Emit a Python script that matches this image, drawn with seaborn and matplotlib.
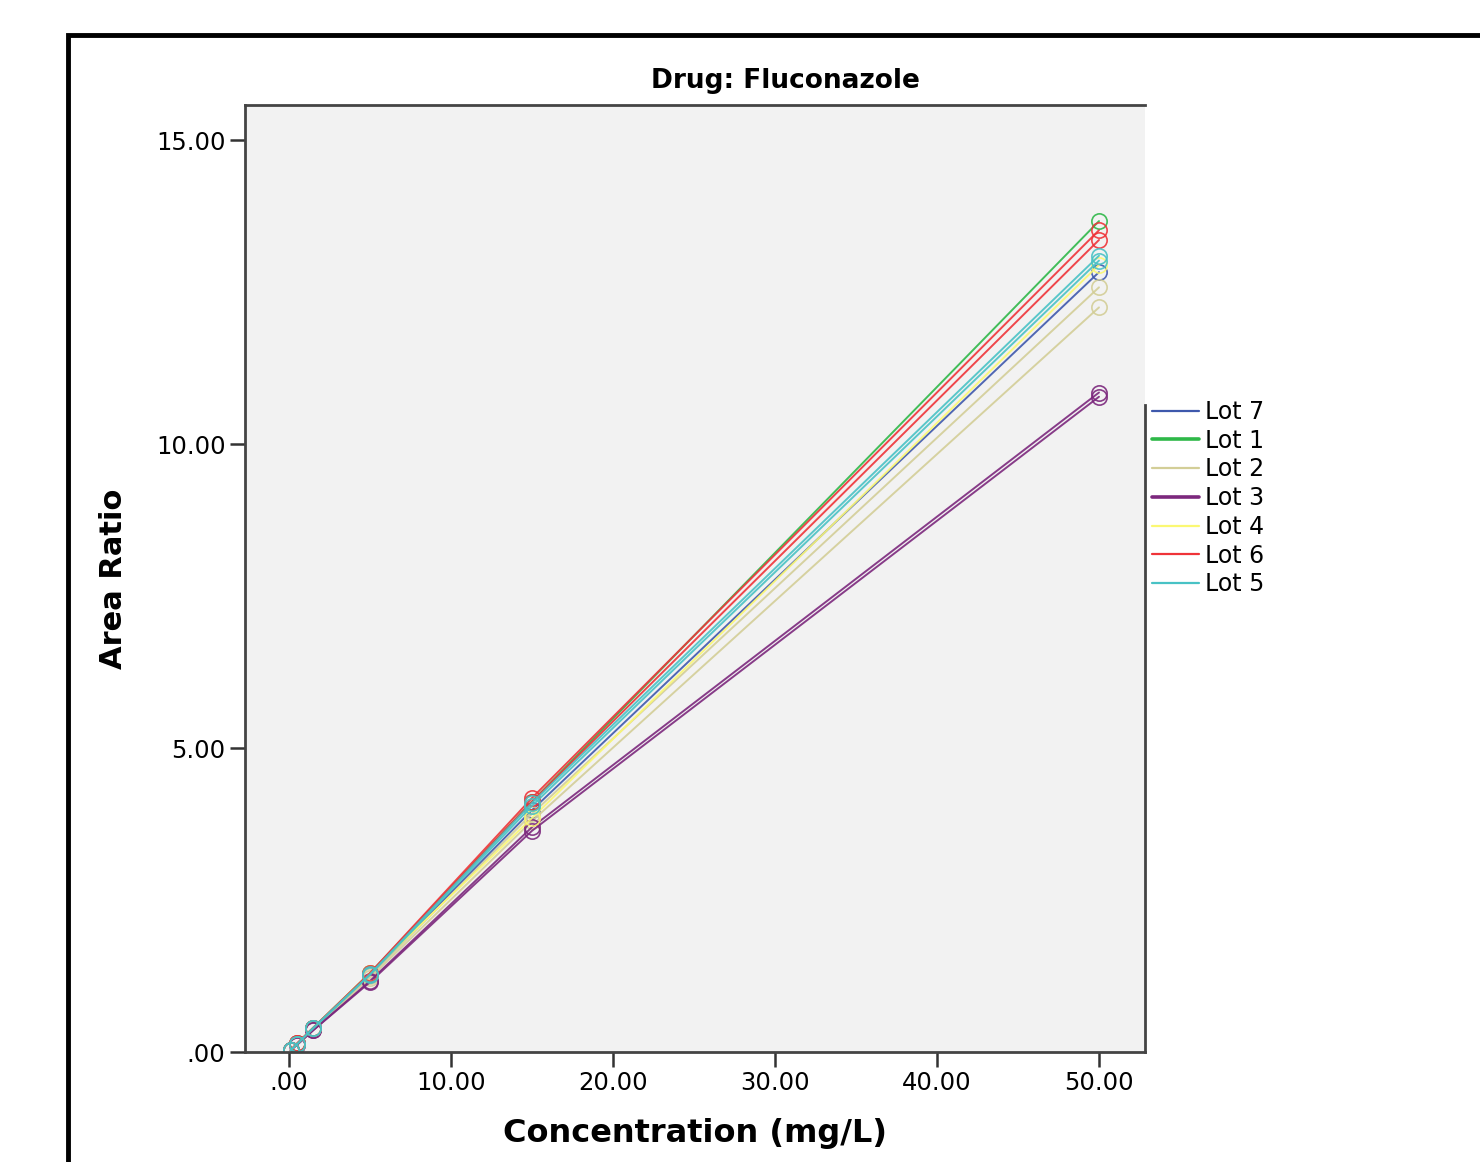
import pandas as pd
import matplotlib
matplotlib.use("Agg")
import matplotlib.pyplot as plt
from matplotlib.lines import Line2D
from matplotlib.patches import Rectangle
import seaborn as sns

# concentrations (mg/L)
conc = [0.1, 0.5, 1.5, 5, 15, 50]

# area ratio per lot / replicate
lot7 = [0.03, 0.13, 0.39, 1.27, 3.98, 12.83]
lot1 = [0.03, 0.14, 0.40, 1.30, 4.12, 13.67]
lot2a = [0.03, 0.13, 0.39, 1.25, 3.92, 12.58]
lot2b = [0.03, 0.13, 0.38, 1.22, 3.80, 12.25]
lot3a = [0.03, 0.12, 0.36, 1.17, 3.70, 10.85]
lot3b = [0.03, 0.12, 0.36, 1.15, 3.64, 10.78]
lot4 = [0.03, 0.13, 0.40, 1.30, 3.85, 12.95]
lot6a = [0.03, 0.14, 0.40, 1.30, 4.18, 13.52]
lot6b = [0.03, 0.14, 0.40, 1.29, 4.12, 13.36]
lot5a = [0.03, 0.13, 0.40, 1.28, 4.10, 13.10]
lot5b = [0.03, 0.13, 0.39, 1.27, 4.05, 13.02]

lot_order = ["Lot 7", "Lot 1", "Lot 2", "Lot 3", "Lot 4", "Lot 6", "Lot 5"]
lot_colors = ["#3E58AC", "#2EB848", "#D3CE97", "#7C287D", "#FBF873", "#EF3338", "#48C2C5"]

x_ticks = [0, 10, 20, 30, 40, 50]
x_labels = [".00", "10.00", "20.00", "30.00", "40.00", "50.00"]
y_ticks = [0, 5, 10, 15]
y_labels = [".00", "5.00", "10.00", "15.00"]

series = [("Lot 7", "a", lot7), ("Lot 1", "a", lot1), ("Lot 2", "a", lot2a), ("Lot 2", "b", lot2b),
          ("Lot 3", "a", lot3a), ("Lot 3", "b", lot3b), ("Lot 4", "a", lot4), ("Lot 6", "a", lot6a),
          ("Lot 6", "b", lot6b), ("Lot 5", "a", lot5a), ("Lot 5", "b", lot5b)]
rows = []
for lot, rep, vals in series:
    for c, v in zip(conc, vals):
        rows.append({"Lot": lot, "Rep": lot + rep, "Concentration": c, "Area Ratio": v})
df = pd.DataFrame(rows)

sns.set_style("white")
plt.rcParams['font.family'] = ['DejaVu Sans']
plt.rcParams['text.color'] = 'black'

fig = plt.figure(figsize=(14.8, 11.62), dpi=100)
ax = fig.add_axes([245/1480, 1-1052/1162, 900/1480, 947/1162])
ax.set_facecolor("#F2F2F2")

pal = dict(zip(lot_order, lot_colors))
sns.lineplot(data=df, x="Concentration", y="Area Ratio", hue="Lot", units="Rep",
             estimator=None, sort=False, palette=pal, hue_order=lot_order,
             marker="o", markersize=11, linewidth=1.4, legend=False, ax=ax)
for ln in ax.lines:
    ln.set_markerfacecolor("none")
    ln.set_markeredgecolor(ln.get_color())
    ln.set_markeredgewidth(1.2)
    ln.set_alpha(0.9)

ax.set_xlim(-2.72, 52.84)
ax.set_ylim(0, 15.58)
ax.set_xticks(x_ticks)
ax.set_xticklabels(x_labels)
ax.set_yticks(y_ticks)
ax.set_yticklabels(y_labels)
ax.tick_params(axis="both", direction="out", length=11, width=1.8, color="#333333",
               labelsize=17.5, labelcolor="black", pad=3, left=True, bottom=True)
for s in ["left", "bottom", "top", "right"]:
    ax.spines[s].set_color("#444444")
    ax.spines[s].set_linewidth(2.0)
ax.spines["right"].set_bounds(0, 10.64)

ax.set_xlabel("Concentration (mg/L)", fontsize=23, fontweight="bold", labelpad=16, color="black")
ax.set_ylabel("Area Ratio", fontsize=22, fontweight="bold", labelpad=20, color="black")
fig.text(785/1480, 1-81/1162, "Drug: Fluconazole", ha="center", va="center",
         fontsize=19, fontweight="bold", color="black")

handles = [Line2D([0], [0], color=c, lw=(2.6 if n in ("Lot 1", "Lot 3") else 1.6))
           for n, c in zip(lot_order, lot_colors)]
fig.legend(handles, lot_order, loc="upper left", bbox_to_anchor=(1152/1480, 1-400/1162),
           frameon=False, fontsize=17, handlelength=2.0, handletextpad=0.25,
           labelspacing=0.2, borderpad=0, borderaxespad=0)

# outer frame
fig.patches.append(Rectangle((68/1480, -0.1), 1.2, 1-34.5/1162+0.1, transform=fig.transFigure,
                             fill=False, edgecolor="black", linewidth=3.5))

fig.savefig("out.png", dpi=100)
